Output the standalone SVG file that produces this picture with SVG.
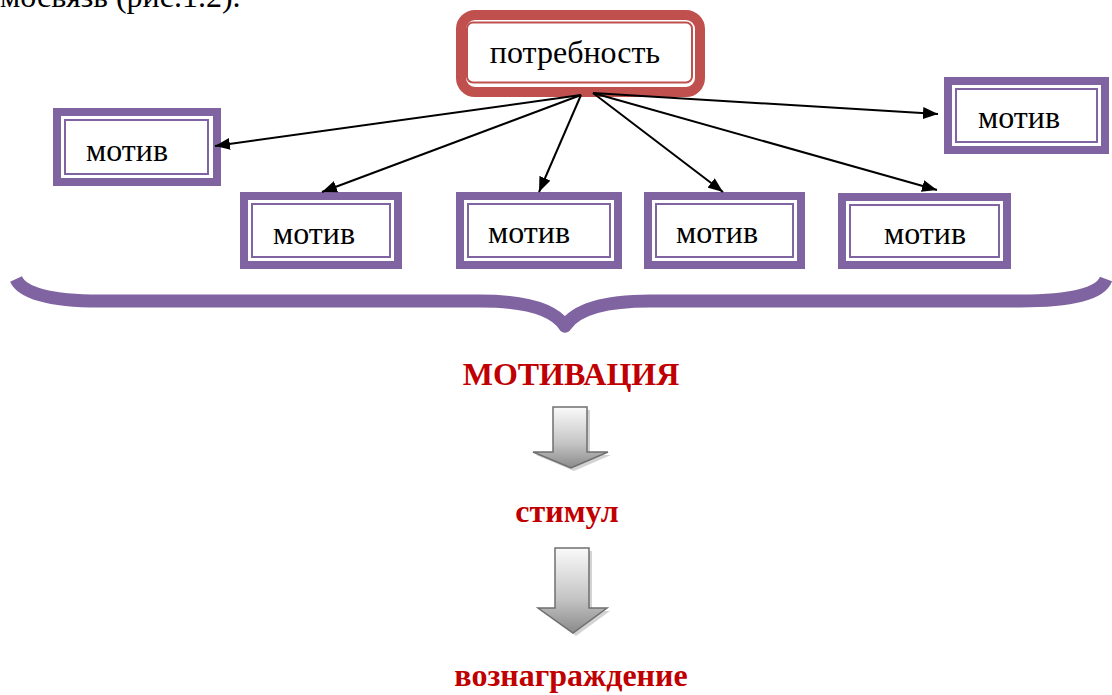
<svg xmlns="http://www.w3.org/2000/svg" width="1112" height="695" viewBox="0 0 1112 695">
<defs>
<style>
.thick{fill:#fff;stroke:#8064A2;stroke-width:8}
.thin{fill:none;stroke:#8064A2;stroke-width:2}
.lbl{font-family:"Liberation Serif","Times New Roman",serif;font-size:32px;fill:#000;text-anchor:middle}
.red{font-family:"Liberation Serif","Times New Roman",serif;font-size:32px;font-weight:bold;fill:#C00000;text-anchor:middle}
.conn{stroke:#000;stroke-width:2;fill:none;marker-end:url(#ah)}
.garrow{fill:url(#gg);stroke:#6f6f6f;stroke-width:1.5;stroke-linejoin:miter}
.gshadow{fill:#c8c8c8;opacity:0.8}
</style>
<marker id="ah" markerUnits="userSpaceOnUse" markerWidth="16" markerHeight="12" refX="15" refY="6" orient="auto">
<path d="M0,0 L15,6 L0,12 Z" fill="#000"/>
</marker>
<linearGradient id="gg" x1="0" y1="0" x2="0" y2="1">
<stop offset="0" stop-color="#fafafa"/>
<stop offset="0.6" stop-color="#c4c4c4"/>
<stop offset="1" stop-color="#8a8a8a"/>
</linearGradient>
</defs>
<text x="0" y="7" font-family="Liberation Serif, Times New Roman, serif" font-size="32" fill="#000">мосвязь (рис.1.2).</text>
<g id="need">
<rect x="461" y="15" width="239" height="77" rx="14" fill="#fff" stroke="#C0504D" stroke-width="10"/>
<rect x="467" y="22.5" width="225" height="60" rx="6" fill="none" stroke="#C0504D" stroke-width="2"/>
<text class="lbl" x="575" y="63">потребность</text>
</g>
<g id="motive1">
<rect class="thick" x="57" y="112" width="160" height="70"/>
<rect class="thin" x="65" y="120" width="143" height="54"/>
<text class="lbl" x="127" y="161">мотив</text>
</g>
<g id="motive2">
<rect class="thick" x="244" y="196" width="154" height="69"/>
<rect class="thin" x="252" y="204" width="138" height="53"/>
<text class="lbl" x="314" y="244">мотив</text>
</g>
<g id="motive3">
<rect class="thick" x="460" y="196" width="158" height="69"/>
<rect class="thin" x="468" y="204" width="142" height="53"/>
<text class="lbl" x="529" y="243">мотив</text>
</g>
<g id="motive4">
<rect class="thick" x="648" y="196" width="153" height="69"/>
<rect class="thin" x="656" y="204" width="137" height="53"/>
<text class="lbl" x="717" y="243">мотив</text>
</g>
<g id="motive5">
<rect class="thick" x="842" y="197" width="165" height="68"/>
<rect class="thin" x="850" y="205" width="149" height="52"/>
<text class="lbl" x="925" y="244">мотив</text>
</g>
<g id="motive6">
<rect class="thick" x="948" y="81" width="157" height="69"/>
<rect class="thin" x="956" y="89" width="141" height="53"/>
<text class="lbl" x="1019" y="128">мотив</text>
</g>
<g id="connectors">
<line class="conn" x1="581" y1="95" x2="215" y2="146"/>
<line class="conn" x1="581" y1="95" x2="322" y2="192"/>
<line class="conn" x1="581" y1="95" x2="539" y2="192"/>
<line class="conn" x1="593" y1="93" x2="723" y2="192"/>
<line class="conn" x1="593" y1="93" x2="937" y2="190"/>
<line class="conn" x1="593" y1="93" x2="938" y2="114"/>
</g>
<g id="brace">
<path d="M16,279 Q26,301 100,301 L480,301 Q548,301 565,326 Q582,301 650,301 L1020,301 Q1098,301 1106,279" fill="none" stroke="#8064A2" stroke-width="13" stroke-linejoin="round"/>
<circle cx="565" cy="326" r="6.5" fill="#8064A2"/>
</g>
<g id="motivation">
<text class="red" x="571" y="385">МОТИВАЦИЯ</text>
</g>
<g id="arrow1">
<polygon class="gshadow" points="556,410 590,410 590,455 611,455 574,471 536,455 556,455"/>
<polygon class="garrow" points="553,407 587,407 587,452 608,452 571,468 533,452 553,452"/>
</g>
<g id="stimulus">
<text class="red" x="567" y="522">стимул</text>
</g>
<g id="arrow2">
<polygon class="gshadow" points="558,551 592,551 592,611 610,611 576,636 541,611 558,611"/>
<polygon class="garrow" points="555,548 589,548 589,608 607,608 573,633 538,608 555,608"/>
</g>
<g id="reward">
<text class="red" x="571" y="686">вознаграждение</text>
</g>
</svg>
